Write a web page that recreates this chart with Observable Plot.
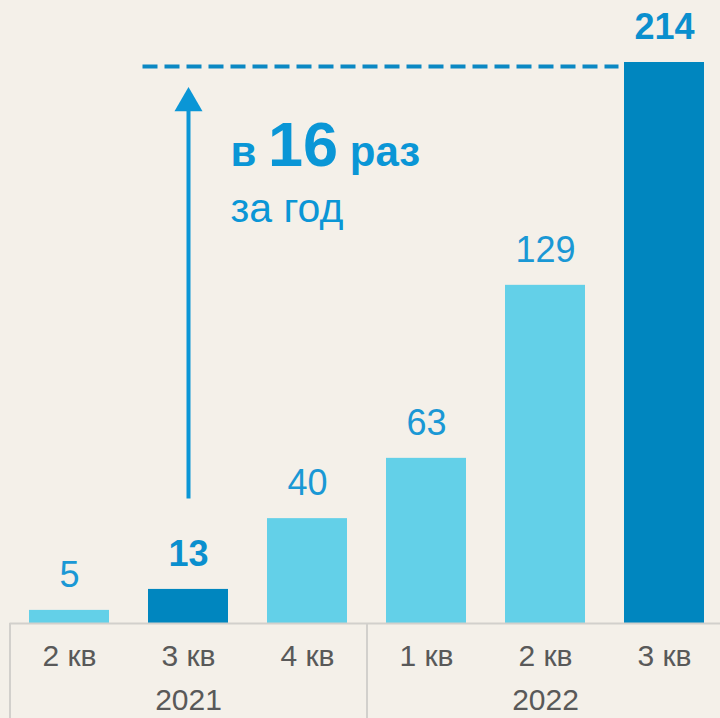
<!DOCTYPE html>
<html>
<head>
<meta charset="utf-8">
<script src="https://cdn.jsdelivr.net/npm/d3@7"></script>
<script src="https://cdn.jsdelivr.net/npm/@observablehq/plot@0.6"></script>
<style>
  html, body { margin: 0; padding: 0; background: #f4f0e9; }
  #chart svg { display: block; background: #f4f0e9; }
</style>
</head>
<body>
<div id="chart"></div>
<script>
const quarters = ["2 кв", "3 кв", "4 кв", "1 кв", "2 кв", "3 кв"];
const years = ["2021", "2021", "2021", "2022", "2022", "2022"];
const values = [5, 13, 40, 63, 129, 214];
const highlight = [false, true, false, false, false, true];
const yearLabels = ["2021", "2022"];
const headline = "в 16 раз";
const subline = "за год";
const growthFrom = 13;
const growthTo = 214;

const keys = quarters.map((q, i) => q + " " + years[i]);
const data = keys.map((k, i) => ({key: k, quarter: quarters[i], year: years[i], value: values[i], hl: highlight[i]}));
const yearData = yearLabels.map(y => {
  const ks = keys.filter((k, i) => years[i] === y);
  return {year: y, mid: ks[Math.floor(ks.length / 2)], first: ks[0]};
});
const fromKey = keys[values.indexOf(growthFrom)];
const toKey = keys[values.indexOf(growthTo)];

const light = "#63d0e8", dark = "#0086bf";
const labelBlue = "#1a98d5", accent = "#0a96d6", axisGray = "#d2d0cc", textGray = "#595959";
const font = "'Liberation Sans', Arial, sans-serif";

const chart = Plot.plot({
  width: 720,
  height: 718,
  marginLeft: 29,
  marginRight: 16,
  marginTop: 62,
  marginBottom: 95,
  style: {background: "#f4f0e9", fontFamily: font},
  x: {domain: keys, paddingInner: 0.328, paddingOuter: 0, axis: null},
  y: {domain: [0, 214], axis: null},
  marks: [
    // dashed reference line at the top value
    Plot.link([0], {x1: () => fromKey, x2: () => toKey, y1: () => growthTo, y2: () => growthTo,
      dx: -46, dy: 4, stroke: "#0b88c3", strokeWidth: 4, strokeDasharray: "15,7"}),
    // arrow shaft
    Plot.link([0], {x1: () => fromKey, x2: () => fromKey, y1: () => 47.7, y2: () => 197,
      stroke: accent, strokeWidth: 4}),
    // arrow head
    Plot.dot([0], {x: () => fromKey, y: () => 198.5, symbol: "triangle", r: 10.4, fill: accent, stroke: "none"}),
    // bars
    Plot.barY(data, {x: "key", y: "value", fill: d => d.hl ? dark : light}),
    // baseline
    Plot.ruleY([0], {stroke: axisGray, strokeWidth: 2, insetLeft: -19.5, insetRight: -16}),
    // year separators
    Plot.ruleX(yearData, {x: "first", dx: -59.5, stroke: axisGray, strokeWidth: 2, insetTop: 561, insetBottom: -95}),
    // value labels
    Plot.text(data.filter(d => !d.hl), {x: "key", y: "value", text: d => String(d.value), dy: -35, lineAnchor: "middle",
      fontSize: 36, fill: labelBlue}),
    Plot.text(data.filter(d => d.hl), {x: "key", y: "value", text: d => String(d.value), dy: -35, lineAnchor: "middle",
      fontSize: 36, fill: "#0a8fce", fontWeight: "bold"}),
    // quarter labels
    Plot.text(data, {x: "key", y: () => 0, text: "quarter", dy: 33, lineAnchor: "middle", fontSize: 30, fill: textGray}),
    // year labels
    Plot.text(yearData, {x: "mid", y: () => 0, text: "year", dy: 77, lineAnchor: "middle", fontSize: 30, fill: textGray}),
    // annotation
    Plot.text([headline], {x: () => fromKey, y: () => 179.8, text: d => d, dx: 42, textAnchor: "start",
      lineAnchor: "middle", fontSize: 42, fontWeight: "bold", fill: accent, className: "headline"}),
    Plot.text([subline], {x: () => fromKey, y: () => 158, text: d => d, dx: 42, textAnchor: "start",
      lineAnchor: "middle", fontSize: 41, fill: accent})
  ]
});

document.getElementById("chart").appendChild(chart);

// Render the headline with a larger number
d3.select(chart).selectAll("g.headline text").each(function() {
  const parts = headline.split(" ");
  const t = d3.select(this);
  t.text(null);
  t.append("tspan").text(parts[0] + " ");
  t.append("tspan").attr("font-size", 63).text(parts[1]);
  t.append("tspan").text(" " + parts[2]);
});
</script>
</body>
</html>
